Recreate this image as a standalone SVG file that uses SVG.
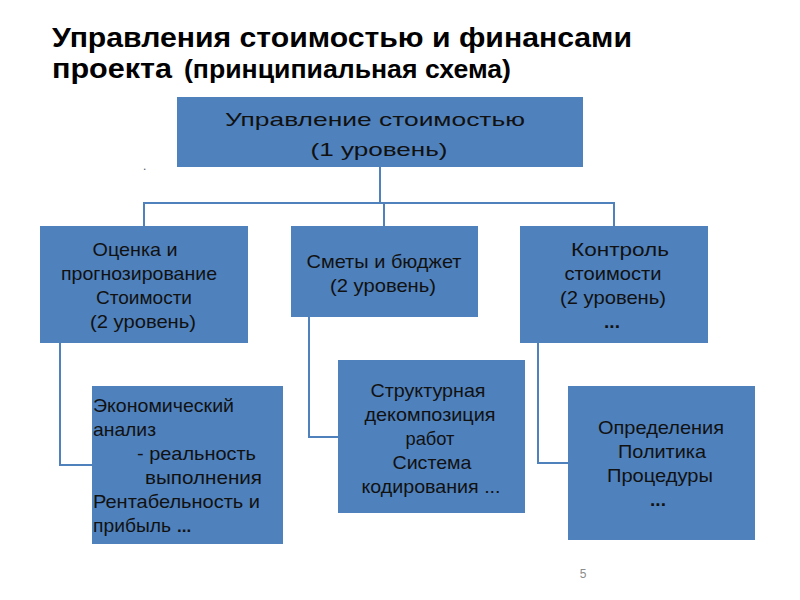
<svg xmlns="http://www.w3.org/2000/svg" width="800" height="600" viewBox="0 0 800 600">
<style>
.box{fill:#4f81bd;}
.t{font-family:"Liberation Sans",Arial,sans-serif;font-size:19px;fill:#111;}
.c{text-anchor:middle;}
.title{font-family:"Liberation Sans",Arial,sans-serif;font-size:27px;font-weight:bold;fill:#000;}
.conn{fill:none;stroke:#4f81bd;stroke-width:2;}
</style>
<rect width="800" height="600" fill="#fff"/>
<g id="title">
<text class="title" x="52" y="47" textLength="580" lengthAdjust="spacingAndGlyphs">Управления стоимостью и финансами</text>
<text class="title" x="52" y="78"><tspan textLength="120" lengthAdjust="spacingAndGlyphs">проекта</tspan><tspan x="184" textLength="327" lengthAdjust="spacingAndGlyphs" font-size="25">(принципиальная схема)</tspan></text>
</g>
<g id="connectors">
<polyline class="conn" points="380,167 380,203"/>
<polyline class="conn" points="144,226 144,203 614,203 614,226"/>
<polyline class="conn" points="384,203 384,226"/>
<polyline class="conn" points="60,343 60,465 92,465"/>
<polyline class="conn" points="309,317 309,437 338,437"/>
<polyline class="conn" points="538,343 538,463 568,463"/>
</g>
<g id="top">
<rect class="box" x="177" y="97" width="406" height="70"/>
<text class="t c" x="375" y="126" font-size="25" textLength="300" lengthAdjust="spacingAndGlyphs">Управление стоимостью</text>
<text class="t c" x="379" y="156" font-size="25" textLength="137" lengthAdjust="spacingAndGlyphs">(1 уровень)</text>
</g>
<g id="box1">
<rect class="box" x="40" y="226" width="208" height="117"/>
<text class="t c" x="135" y="256" textLength="85" lengthAdjust="spacingAndGlyphs">Оценка и</text>
<text class="t c" x="139" y="280" textLength="156" lengthAdjust="spacingAndGlyphs">прогнозирование</text>
<text class="t c" x="144" y="304" textLength="96" lengthAdjust="spacingAndGlyphs">Стоимости</text>
<text class="t c" x="143" y="328" textLength="106" lengthAdjust="spacingAndGlyphs">(2 уровень)</text>
</g>
<g id="box2">
<rect class="box" x="291" y="226" width="187" height="91"/>
<text class="t c" x="384" y="268" textLength="155" lengthAdjust="spacingAndGlyphs">Сметы и бюджет</text>
<text class="t c" x="383" y="292" textLength="106" lengthAdjust="spacingAndGlyphs">(2 уровень)</text>
</g>
<g id="box3">
<rect class="box" x="520" y="226" width="188" height="117"/>
<text class="t c" x="620" y="256" textLength="98" lengthAdjust="spacingAndGlyphs">Контроль</text>
<text class="t c" x="613" y="280" textLength="97" lengthAdjust="spacingAndGlyphs">стоимости</text>
<text class="t c" x="613" y="304" textLength="106" lengthAdjust="spacingAndGlyphs">(2 уровень)</text>
<text class="t c" x="612" y="328" font-weight="bold" font-size="17">...</text>
</g>
<g id="sub1">
<rect class="box" x="92" y="386" width="191" height="158"/>
<text class="t" x="93" y="412" textLength="141" lengthAdjust="spacingAndGlyphs">Экономический</text>
<text class="t" x="93" y="436" textLength="63" lengthAdjust="spacingAndGlyphs">анализ</text>
<text class="t" x="137" y="460" textLength="119" lengthAdjust="spacingAndGlyphs">- реальность</text>
<text class="t" x="145" y="484" textLength="117" lengthAdjust="spacingAndGlyphs">выполнения</text>
<text class="t" x="93" y="508" textLength="167" lengthAdjust="spacingAndGlyphs">Рентабельность и</text>
<text class="t" x="93" y="532"><tspan textLength="78" lengthAdjust="spacingAndGlyphs">прибыль</tspan><tspan x="177" font-weight="bold" font-size="17">...</tspan></text>
</g>
<g id="sub2">
<rect class="box" x="338" y="360" width="187" height="153"/>
<text class="t c" x="428" y="397" textLength="115" lengthAdjust="spacingAndGlyphs">Структурная</text>
<text class="t c" x="430" y="421" textLength="131" lengthAdjust="spacingAndGlyphs">декомпозиция</text>
<text class="t c" x="430" y="445" textLength="49" lengthAdjust="spacingAndGlyphs">работ</text>
<text class="t c" x="432" y="469" textLength="79" lengthAdjust="spacingAndGlyphs">Система</text>
<text class="t c" x="431" y="493" textLength="139" lengthAdjust="spacingAndGlyphs">кодирования ...</text>
</g>
<g id="sub3">
<rect class="box" x="568" y="386" width="187" height="154"/>
<text class="t c" x="661" y="434" textLength="126" lengthAdjust="spacingAndGlyphs">Определения</text>
<text class="t c" x="662" y="458" textLength="88" lengthAdjust="spacingAndGlyphs">Политика</text>
<text class="t c" x="660" y="482" textLength="106" lengthAdjust="spacingAndGlyphs">Процедуры</text>
<text class="t c" x="658" y="506" font-weight="bold" font-size="17">...</text>
</g>
<text x="143" y="170" font-family="Liberation Sans,sans-serif" font-size="12" fill="#555">.</text>
<text x="583" y="578" font-family="Liberation Sans,sans-serif" font-size="12" fill="#8c8c8c" text-anchor="middle">5</text>
</svg>
